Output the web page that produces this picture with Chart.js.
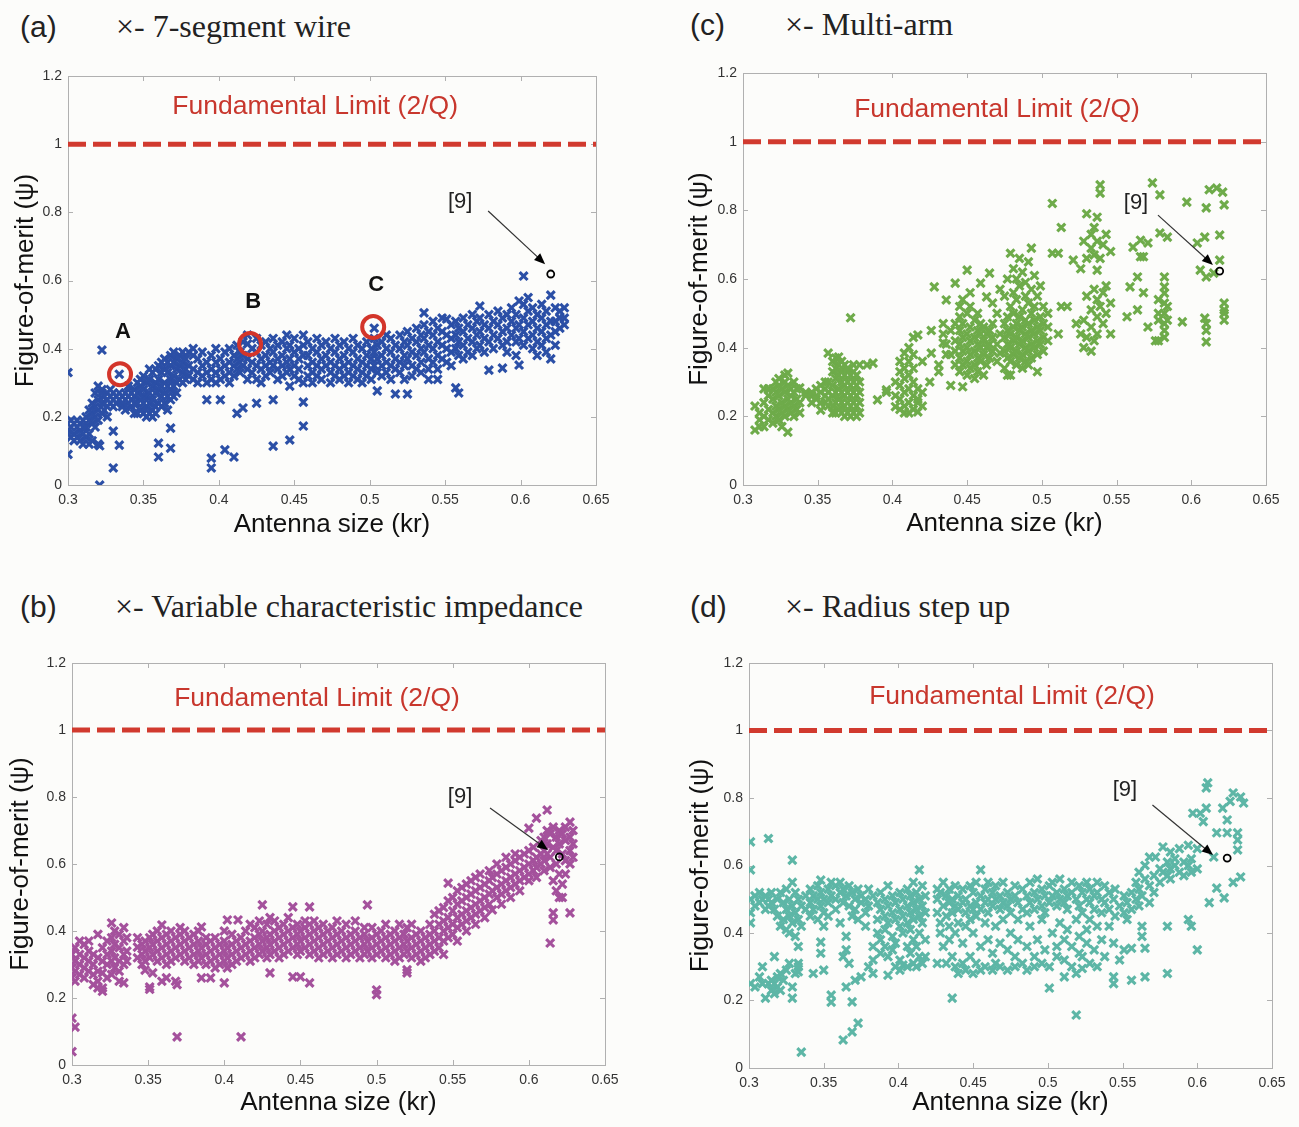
<!DOCTYPE html>
<html>
<head>
<meta charset="utf-8">
<script src="https://cdn.jsdelivr.net/npm/chart.js@4/dist/chart.umd.min.js"></script>
<style>
body { margin:0; background:#fcfcfa; width:1299px; height:1127px; position:relative; overflow:hidden; }
canvas { position:absolute; }
.tag { position:absolute; font-family:"Liberation Sans", Arial, sans-serif; font-size:30px; color:#222; line-height:30px; }
.name { position:absolute; font-family:"Liberation Serif", "Times New Roman", serif; font-size:32px; color:#222; line-height:32px; }
</style>
</head>
<body>
<div class="tag" style="left:20px;top:12px">(a)</div>
<div class="name" style="left:116px;top:10px">×- 7-segment wire</div>
<div class="tag" style="left:690px;top:10px">(c)</div>
<div class="name" style="left:785px;top:8px">×- Multi-arm</div>
<div class="tag" style="left:20px;top:592px">(b)</div>
<div class="name" style="left:115px;top:590px">×- Variable characteristic impedance</div>
<div class="tag" style="left:690px;top:592px">(d)</div>
<div class="name" style="left:785px;top:590px">×- Radius step up</div>

<canvas id="pa" width="640" height="492" style="left:0;top:58px"></canvas>
<canvas id="pc" width="624" height="492" style="left:675px;top:58px"></canvas>
<canvas id="pb" width="640" height="482" style="left:0;top:645px"></canvas>
<canvas id="pd" width="624" height="482" style="left:675px;top:645px"></canvas>

<script>
// axis ticks
const xTicks = [0.3, 0.35, 0.4, 0.45, 0.5, 0.55, 0.6, 0.65];
const yTicks = [0, 0.2, 0.4, 0.6, 0.8, 1, 1.2];
const limitValue = 1;

// each column: [kr, [figure-of-merit values read at that kr]]
const wireCols = [
  [0.300, [0.33, 0.16, 0.09]], [0.302, [0.19, 0.14, 0.17]], [0.304, [0.15, 0.18, 0.13]],
  [0.306, [0.17, 0.14, 0.19]], [0.308, [0.16, 0.13, 0.18]], [0.310, [0.15, 0.19, 0.17, 0.12]],
  [0.312, [0.20, 0.17, 0.14]], [0.314, [0.22, 0.19, 0.15, 0.12]], [0.316, [0.24, 0.21, 0.18, 0.13]],
  [0.318, [0.27, 0.23, 0.20, 0.17]], [0.320, [0.29, 0.25, 0.22, 0.19, 0.12]], [0.321, [0.0, 0.115]],
  [0.3225, [0.396, 0.27, 0.24, 0.21, 0.28]], [0.324, [0.26, 0.22, 0.24]], [0.326, [0.25, 0.27, 0.23, 0.2]],
  [0.328, [0.26, 0.24, 0.28]], [0.330, [0.25, 0.27, 0.158, 0.05, 0.23]], [0.332, [0.26, 0.24]],
  [0.334, [0.325, 0.25, 0.27, 0.117]], [0.336, [0.26, 0.24, 0.23]], [0.338, [0.25, 0.27, 0.22]],
  [0.340, [0.26, 0.24, 0.29]], [0.342, [0.25, 0.27, 0.23]], [0.344, [0.28, 0.24, 0.26, 0.21]],
  [0.346, [0.30, 0.27, 0.24, 0.21]], [0.348, [0.29, 0.25, 0.22, 0.31]], [0.350, [0.28, 0.24, 0.21, 0.32, 0.26]],
  [0.352, [0.30, 0.26, 0.23, 0.20]], [0.354, [0.31, 0.27, 0.24, 0.21, 0.34]], [0.356, [0.33, 0.29, 0.25, 0.22, 0.20]],
  [0.358, [0.34, 0.30, 0.27, 0.23, 0.21]], [0.360, [0.35, 0.31, 0.28, 0.24, 0.123, 0.082]],
  [0.362, [0.36, 0.33, 0.29, 0.26, 0.23]], [0.364, [0.37, 0.34, 0.30, 0.27, 0.24]],
  [0.366, [0.36, 0.33, 0.29, 0.26, 0.22]], [0.368, [0.38, 0.35, 0.31, 0.28, 0.167, 0.108, 0.25]],
  [0.370, [0.39, 0.36, 0.32, 0.29, 0.26]], [0.372, [0.37, 0.34, 0.30, 0.27]], [0.374, [0.38, 0.35, 0.31]],
  [0.376, [0.36, 0.33, 0.30, 0.39]], [0.378, [0.37, 0.34, 0.31]], [0.380, [0.39, 0.35, 0.32]],
  [0.383, [0.38, 0.34, 0.31, 0.40]], [0.386, [0.37, 0.33, 0.30]], [0.389, [0.39, 0.35, 0.32]],
  [0.392, [0.36, 0.33, 0.25, 0.30]], [0.395, [0.38, 0.34, 0.31, 0.079, 0.05]], [0.398, [0.40, 0.36, 0.33, 0.30]],
  [0.401, [0.37, 0.34, 0.25, 0.31]], [0.404, [0.39, 0.35, 0.32, 0.103]], [0.407, [0.40, 0.36, 0.33, 0.30]],
  [0.410, [0.38, 0.35, 0.32, 0.082]], [0.412, [0.41, 0.37, 0.34, 0.21]], [0.414, [0.39, 0.36, 0.33]],
  [0.416, [0.42, 0.38, 0.35, 0.226]], [0.419, [0.414, 0.37, 0.34, 0.31, 0.44]], [0.422, [0.40, 0.36, 0.33]],
  [0.425, [0.43, 0.39, 0.35, 0.24, 0.31]], [0.428, [0.41, 0.37, 0.34, 0.30]], [0.431, [0.42, 0.38, 0.35, 0.32]],
  [0.434, [0.40, 0.36, 0.33]], [0.436, [0.43, 0.39, 0.35, 0.25, 0.114]], [0.439, [0.41, 0.37, 0.34, 0.31]],
  [0.442, [0.42, 0.38, 0.35, 0.32]], [0.445, [0.44, 0.40, 0.36, 0.33]], [0.447, [0.41, 0.37, 0.34, 0.132, 0.29]],
  [0.450, [0.43, 0.39, 0.35, 0.32]], [0.453, [0.40, 0.37, 0.34, 0.31]], [0.456, [0.44, 0.41, 0.38, 0.243, 0.173, 0.30]],
  [0.459, [0.42, 0.38, 0.35, 0.32]], [0.462, [0.40, 0.36, 0.33, 0.30]], [0.465, [0.43, 0.39, 0.35, 0.32]],
  [0.468, [0.41, 0.37, 0.34, 0.31]], [0.471, [0.42, 0.38, 0.35]], [0.474, [0.40, 0.36, 0.33, 0.30]],
  [0.477, [0.43, 0.39, 0.35, 0.32]], [0.480, [0.41, 0.37, 0.34, 0.31]], [0.483, [0.42, 0.38, 0.35, 0.32]],
  [0.486, [0.40, 0.36, 0.33, 0.30]], [0.489, [0.43, 0.39, 0.35, 0.32]], [0.492, [0.41, 0.37, 0.34, 0.31]],
  [0.495, [0.40, 0.36, 0.33, 0.30]], [0.498, [0.42, 0.38, 0.35, 0.32]], [0.501, [0.40, 0.37, 0.34, 0.31]],
  [0.503, [0.46, 0.43, 0.39, 0.35]], [0.505, [0.41, 0.37, 0.33, 0.276]], [0.508, [0.42, 0.38, 0.35, 0.32]],
  [0.511, [0.40, 0.36, 0.33, 0.44]], [0.514, [0.43, 0.39, 0.35, 0.31]], [0.517, [0.41, 0.37, 0.34, 0.267]],
  [0.520, [0.44, 0.40, 0.36, 0.33]], [0.523, [0.42, 0.38, 0.35, 0.31]], [0.525, [0.45, 0.41, 0.37, 0.267]],
  [0.528, [0.43, 0.39, 0.35, 0.32]], [0.531, [0.46, 0.42, 0.38, 0.34]], [0.534, [0.44, 0.40, 0.36, 0.33]],
  [0.536, [0.505, 0.47, 0.43, 0.39]], [0.539, [0.45, 0.41, 0.37, 0.34, 0.31]], [0.542, [0.48, 0.44, 0.40, 0.36]],
  [0.545, [0.46, 0.42, 0.38, 0.34, 0.31]], [0.548, [0.49, 0.45, 0.41, 0.37]], [0.551, [0.487, 0.44, 0.40, 0.36]],
  [0.554, [0.47, 0.43, 0.39, 0.35]], [0.557, [0.48, 0.44, 0.40, 0.285]], [0.559, [0.46, 0.42, 0.38, 0.27]],
  [0.562, [0.49, 0.45, 0.41, 0.37]], [0.565, [0.47, 0.43, 0.39]], [0.568, [0.50, 0.46, 0.42, 0.38]],
  [0.571, [0.48, 0.44, 0.40]], [0.573, [0.525, 0.49, 0.45, 0.41]], [0.576, [0.47, 0.43, 0.39]],
  [0.579, [0.50, 0.46, 0.42, 0.337]], [0.582, [0.48, 0.44, 0.40]], [0.585, [0.51, 0.47, 0.43]],
  [0.588, [0.49, 0.45, 0.41, 0.343]], [0.591, [0.50, 0.46, 0.42, 0.39]], [0.594, [0.52, 0.48, 0.44]],
  [0.597, [0.50, 0.46, 0.42, 0.38]], [0.599, [0.54, 0.47, 0.352, 0.43]], [0.602, [0.613, 0.53, 0.49, 0.45, 0.41]],
  [0.605, [0.55, 0.51, 0.47, 0.43]], [0.608, [0.52, 0.48, 0.44, 0.40]], [0.611, [0.50, 0.46, 0.42, 0.38]],
  [0.614, [0.53, 0.49, 0.45, 0.41]], [0.617, [0.51, 0.47, 0.43, 0.39]], [0.620, [0.557, 0.48, 0.44, 0.37]],
  [0.623, [0.52, 0.48, 0.45, 0.41]], [0.626, [0.51, 0.49, 0.46]], [0.629, [0.52, 0.49, 0.47]]
];

const impedanceCols = [
  [0.300, [0.29, 0.26, 0.33, 0.14, 0.04]], [0.302, [0.31, 0.28, 0.25, 0.113, 0.35]], [0.305, [0.33, 0.30, 0.27, 0.37]],
  [0.308, [0.32, 0.29, 0.36, 0.26]], [0.311, [0.34, 0.31, 0.28, 0.37]], [0.314, [0.33, 0.30, 0.27, 0.24]],
  [0.317, [0.32, 0.28, 0.23, 0.25, 0.39]], [0.320, [0.35, 0.31, 0.275, 0.23, 0.22]], [0.323, [0.37, 0.33, 0.30, 0.26]],
  [0.326, [0.424, 0.38, 0.34, 0.31, 0.27]], [0.328, [0.36, 0.32, 0.29, 0.40]], [0.331, [0.39, 0.35, 0.31, 0.28, 0.25]],
  [0.334, [0.41, 0.37, 0.33, 0.30, 0.245]], [0.336, [0.38, 0.34, 0.31]], [0.343, [0.352, 0.38, 0.32]],
  [0.346, [0.36, 0.33, 0.30]], [0.348, [0.34, 0.37, 0.283, 0.31]], [0.351, [0.35, 0.32, 0.233, 0.38, 0.226]],
  [0.353, [0.36, 0.33, 0.275, 0.39]], [0.356, [0.34, 0.37, 0.31, 0.40]], [0.359, [0.418, 0.35, 0.32, 0.38, 0.25]],
  [0.362, [0.36, 0.33, 0.30, 0.39, 0.26]], [0.365, [0.37, 0.34, 0.31, 0.40]], [0.368, [0.35, 0.32, 0.38, 0.25]],
  [0.369, [0.084, 0.24]], [0.371, [0.36, 0.33, 0.39, 0.41]], [0.374, [0.37, 0.34, 0.31, 0.40]],
  [0.377, [0.35, 0.32, 0.38]], [0.380, [0.36, 0.33, 0.39, 0.30]], [0.383, [0.37, 0.34, 0.31, 0.40]],
  [0.385, [0.412, 0.35, 0.26, 0.32]], [0.388, [0.36, 0.33, 0.30, 0.38]], [0.391, [0.34, 0.31, 0.37, 0.26]],
  [0.394, [0.35, 0.32, 0.38, 0.29]], [0.397, [0.36, 0.33, 0.30]], [0.400, [0.34, 0.31, 0.37, 0.245, 0.40]],
  [0.402, [0.433, 0.35, 0.32, 0.29]], [0.405, [0.36, 0.33, 0.30, 0.39]], [0.408, [0.34, 0.31, 0.37]],
  [0.409, [0.433]], [0.411, [0.084, 0.35, 0.32, 0.38]], [0.414, [0.36, 0.33, 0.40]],
  [0.417, [0.34, 0.37, 0.31, 0.42]], [0.420, [0.35, 0.38, 0.32, 0.41]], [0.423, [0.36, 0.39, 0.33, 0.43]],
  [0.425, [0.478, 0.37, 0.34, 0.40]], [0.428, [0.35, 0.38, 0.32, 0.42]], [0.430, [0.275, 0.36, 0.39, 0.44, 0.33]],
  [0.433, [0.37, 0.40, 0.34, 0.43]], [0.436, [0.35, 0.38, 0.41, 0.32]], [0.439, [0.36, 0.39, 0.42, 0.33]],
  [0.442, [0.37, 0.40, 0.34, 0.44]], [0.445, [0.472, 0.263, 0.38, 0.35, 0.41]], [0.448, [0.36, 0.39, 0.42, 0.33]],
  [0.450, [0.263, 0.37, 0.40, 0.34]], [0.453, [0.38, 0.41, 0.35, 0.43]], [0.456, [0.472, 0.245, 0.36, 0.39, 0.33, 0.42]],
  [0.459, [0.37, 0.40, 0.34, 0.43]], [0.462, [0.38, 0.35, 0.41, 0.32]], [0.465, [0.36, 0.39, 0.33, 0.42]],
  [0.468, [0.37, 0.40, 0.34]], [0.471, [0.35, 0.38, 0.32, 0.41]], [0.474, [0.36, 0.39, 0.33, 0.43]],
  [0.477, [0.37, 0.34, 0.40]], [0.480, [0.35, 0.38, 0.32, 0.42]], [0.483, [0.36, 0.39, 0.33]],
  [0.486, [0.37, 0.40, 0.34, 0.43]], [0.489, [0.35, 0.38, 0.32]], [0.492, [0.36, 0.39, 0.41, 0.33]],
  [0.494, [0.478, 0.37, 0.34]], [0.497, [0.38, 0.35, 0.41, 0.32]], [0.500, [0.224, 0.21, 0.36, 0.39, 0.33]],
  [0.503, [0.37, 0.34, 0.40]], [0.506, [0.35, 0.38, 0.32, 0.42]], [0.509, [0.33, 0.36, 0.39]],
  [0.512, [0.34, 0.37, 0.40, 0.31]], [0.515, [0.35, 0.38, 0.32, 0.42]], [0.518, [0.36, 0.33, 0.39]],
  [0.520, [0.284, 0.275, 0.34, 0.37, 0.41]], [0.523, [0.35, 0.38, 0.32, 0.42]], [0.526, [0.36, 0.33, 0.39]],
  [0.529, [0.34, 0.37, 0.40, 0.31]], [0.532, [0.35, 0.38, 0.32]], [0.535, [0.36, 0.39, 0.33, 0.42]],
  [0.538, [0.37, 0.40, 0.34, 0.45]], [0.541, [0.38, 0.42, 0.35, 0.46]], [0.544, [0.33, 0.40, 0.43, 0.37, 0.47]],
  [0.547, [0.543, 0.41, 0.44, 0.38, 0.49]], [0.550, [0.42, 0.46, 0.39, 0.50]], [0.553, [0.44, 0.48, 0.41, 0.52, 0.37]],
  [0.556, [0.45, 0.49, 0.42, 0.53]], [0.559, [0.46, 0.50, 0.43, 0.54, 0.40]], [0.562, [0.47, 0.51, 0.44, 0.55]],
  [0.565, [0.48, 0.52, 0.45, 0.56, 0.42]], [0.568, [0.49, 0.53, 0.46, 0.57]], [0.571, [0.50, 0.54, 0.47, 0.44]],
  [0.574, [0.51, 0.55, 0.48, 0.58]], [0.576, [0.463, 0.52, 0.56]], [0.579, [0.53, 0.57, 0.50, 0.60]],
  [0.582, [0.54, 0.58, 0.51, 0.48]], [0.585, [0.55, 0.59, 0.52, 0.62]], [0.588, [0.56, 0.60, 0.53, 0.50]],
  [0.591, [0.57, 0.61, 0.54, 0.63]], [0.594, [0.58, 0.55, 0.62, 0.52]], [0.597, [0.59, 0.56, 0.63]],
  [0.600, [0.707, 0.60, 0.57, 0.64, 0.55]], [0.603, [0.61, 0.58, 0.65]], [0.605, [0.737, 0.62, 0.59, 0.56]],
  [0.608, [0.63, 0.60, 0.67]], [0.610, [0.64, 0.61, 0.68, 0.58]], [0.612, [0.761, 0.66, 0.63, 0.70]],
  [0.614, [0.364, 0.62, 0.69, 0.59]], [0.616, [0.433, 0.454, 0.65, 0.71, 0.55]], [0.618, [0.68, 0.64, 0.52, 0.60]],
  [0.620, [0.70, 0.66, 0.57, 0.50]], [0.622, [0.50, 0.63, 0.69, 0.54]], [0.624, [0.67, 0.61, 0.71, 0.57]],
  [0.627, [0.725, 0.454, 0.68, 0.64, 0.60]], [0.629, [0.70, 0.66, 0.62]]
];

const multiArmCols = [
  [0.308, [0.16, 0.23]], [0.311, [0.17, 0.21, 0.19]], [0.314, [0.20, 0.24, 0.17, 0.28]],
  [0.317, [0.22, 0.26, 0.19, 0.28]], [0.320, [0.21, 0.25, 0.28, 0.18]], [0.322, [0.23, 0.27, 0.30, 0.20]],
  [0.324, [0.22, 0.26, 0.29, 0.31, 0.19]], [0.326, [0.24, 0.28, 0.21, 0.17]], [0.328, [0.23, 0.27, 0.30, 0.20, 0.32]],
  [0.330, [0.25, 0.22, 0.29, 0.326, 0.154]], [0.332, [0.24, 0.28, 0.21, 0.26]], [0.334, [0.23, 0.27, 0.30, 0.20]],
  [0.336, [0.25, 0.22, 0.28]], [0.338, [0.283, 0.24, 0.21]], [0.342, [0.27, 0.26]],
  [0.346, [0.26, 0.27, 0.24]], [0.349, [0.25, 0.28, 0.26]], [0.352, [0.218, 0.27, 0.24, 0.29]],
  [0.355, [0.26, 0.30, 0.24, 0.28]], [0.357, [0.384, 0.27, 0.25, 0.30, 0.23]], [0.360, [0.26, 0.29, 0.33, 0.36, 0.23, 0.21]],
  [0.362, [0.24, 0.27, 0.31, 0.34, 0.37, 0.21]], [0.364, [0.22, 0.25, 0.28, 0.32, 0.35, 0.373]],
  [0.366, [0.21, 0.24, 0.27, 0.30, 0.33, 0.36]], [0.368, [0.20, 0.23, 0.26, 0.29, 0.32, 0.35]],
  [0.370, [0.21, 0.24, 0.27, 0.30, 0.33, 0.34]], [0.372, [0.20, 0.23, 0.26, 0.29, 0.32, 0.487]],
  [0.374, [0.21, 0.24, 0.27, 0.30, 0.33, 0.35]], [0.376, [0.20, 0.23, 0.26, 0.29, 0.32]],
  [0.378, [0.21, 0.24, 0.27, 0.30, 0.35]], [0.383, [0.35]], [0.387, [0.355]], [0.390, [0.248]],
  [0.396, [0.27, 0.277]], [0.402, [0.228, 0.26, 0.30]], [0.405, [0.25, 0.29, 0.33, 0.36, 0.22]],
  [0.408, [0.384, 0.27, 0.31, 0.34, 0.23, 0.21]], [0.411, [0.24, 0.28, 0.32, 0.36, 0.40, 0.21]],
  [0.414, [0.43, 0.26, 0.30, 0.34, 0.22, 0.38]], [0.417, [0.24, 0.28, 0.213, 0.437, 0.25]],
  [0.420, [0.23, 0.27, 0.36]], [0.425, [0.30]], [0.426, [0.384, 0.45]], [0.428, [0.577]],
  [0.431, [0.33, 0.35]], [0.434, [0.414, 0.44, 0.47]], [0.436, [0.539, 0.38, 0.41]], [0.439, [0.45, 0.29, 0.38]],
  [0.442, [0.588, 0.47, 0.35, 0.39, 0.42]], [0.445, [0.33, 0.37, 0.41, 0.45, 0.49, 0.52]],
  [0.447, [0.286, 0.35, 0.39, 0.43, 0.47, 0.54]], [0.450, [0.626, 0.32, 0.36, 0.40, 0.44, 0.50]],
  [0.452, [0.34, 0.38, 0.42, 0.46, 0.52, 0.56]], [0.455, [0.31, 0.35, 0.39, 0.43, 0.48]],
  [0.457, [0.33, 0.37, 0.41, 0.45, 0.50]], [0.459, [0.588, 0.36, 0.40, 0.44, 0.47]], [0.461, [0.38, 0.42, 0.46, 0.32]],
  [0.463, [0.548, 0.40, 0.44, 0.35]], [0.465, [0.617, 0.37, 0.41, 0.45]], [0.467, [0.39, 0.43, 0.47, 0.53]],
  [0.470, [0.50, 0.36, 0.41]], [0.472, [0.44, 0.384, 0.57]], [0.475, [0.39, 0.43, 0.47, 0.55, 0.34]],
  [0.477, [0.37, 0.41, 0.45, 0.49, 0.60, 0.32]], [0.479, [0.675, 0.32, 0.36, 0.40, 0.44, 0.52]],
  [0.481, [0.38, 0.42, 0.46, 0.50, 0.56, 0.63]], [0.483, [0.35, 0.39, 0.43, 0.47, 0.54, 0.60]],
  [0.485, [0.37, 0.41, 0.45, 0.49, 0.58, 0.66]], [0.487, [0.34, 0.38, 0.42, 0.46, 0.51, 0.62]],
  [0.489, [0.36, 0.40, 0.44, 0.48, 0.55, 0.59]], [0.491, [0.39, 0.43, 0.47, 0.53, 0.65, 0.35]],
  [0.493, [0.37, 0.41, 0.45, 0.50, 0.57, 0.69]], [0.495, [0.40, 0.44, 0.48, 0.52, 0.61]],
  [0.497, [0.33, 0.38, 0.42, 0.46, 0.55]], [0.499, [0.41, 0.45, 0.49, 0.58]], [0.501, [0.39, 0.43, 0.47, 0.52]],
  [0.504, [0.42, 0.46, 0.50]], [0.507, [0.82, 0.675]], [0.511, [0.675, 0.44]], [0.513, [0.75, 0.52]],
  [0.517, [0.52]], [0.521, [0.655]], [0.523, [0.47]], [0.526, [0.44, 0.63]], [0.528, [0.40, 0.71, 0.48]],
  [0.530, [0.79, 0.66, 0.43, 0.55]], [0.533, [0.69, 0.73, 0.51, 0.46, 0.39]], [0.535, [0.75, 0.67, 0.57, 0.42]],
  [0.537, [0.78, 0.626, 0.71, 0.54, 0.44, 0.49]], [0.539, [0.874, 0.85, 0.66, 0.52]], [0.541, [0.70, 0.47, 0.56]],
  [0.543, [0.73, 0.58, 0.50]], [0.546, [0.68, 0.53, 0.44]], [0.557, [0.49]], [0.559, [0.577]],
  [0.561, [0.693]], [0.564, [0.606, 0.51]], [0.566, [0.713, 0.665]], [0.568, [0.665, 0.56]],
  [0.571, [0.705, 0.46]], [0.574, [0.88]], [0.576, [0.42]], [0.578, [0.54, 0.50, 0.48, 0.42]],
  [0.579, [0.845, 0.734]], [0.582, [0.606, 0.577, 0.559, 0.53, 0.50, 0.47, 0.45, 0.43]],
  [0.584, [0.722, 0.52, 0.48]], [0.594, [0.475]], [0.597, [0.824]], [0.604, [0.705]], [0.606, [0.626]],
  [0.609, [0.722, 0.486]], [0.610, [0.807, 0.606, 0.47, 0.45, 0.417]], [0.612, [0.86]], [0.615, [0.617]],
  [0.617, [0.865]], [0.619, [0.728, 0.655]], [0.621, [0.853]], [0.622, [0.816, 0.53, 0.51, 0.50, 0.48]]
];

const radiusCols = [
  [0.301, [0.67, 0.587, 0.46, 0.43, 0.25, 0.50]], [0.304, [0.51, 0.48, 0.24]], [0.307, [0.52, 0.49, 0.27]],
  [0.309, [0.50, 0.30, 0.25]], [0.311, [0.51, 0.207, 0.47]], [0.313, [0.68, 0.50, 0.48, 0.25]],
  [0.315, [0.49, 0.52, 0.26, 0.23]], [0.317, [0.47, 0.33, 0.25, 0.22]], [0.319, [0.50, 0.45, 0.24, 0.27]],
  [0.321, [0.52, 0.42, 0.28, 0.23]], [0.323, [0.49, 0.44, 0.26]], [0.325, [0.53, 0.47, 0.41, 0.29]],
  [0.327, [0.50, 0.45, 0.31, 0.40]], [0.329, [0.616, 0.55, 0.48, 0.43, 0.24, 0.207]], [0.331, [0.52, 0.46, 0.39, 0.28]],
  [0.333, [0.50, 0.44, 0.36, 0.31, 0.285, 0.30]], [0.335, [0.047, 0.48, 0.42]], [0.338, [0.51, 0.47]],
  [0.341, [0.49, 0.45, 0.53]], [0.343, [0.28, 0.47, 0.51]], [0.346, [0.50, 0.54, 0.44]],
  [0.348, [0.557, 0.52, 0.48, 0.373, 0.34]], [0.350, [0.50, 0.46, 0.42, 0.29]], [0.353, [0.53, 0.49, 0.45]],
  [0.355, [0.216, 0.195, 0.55, 0.51]], [0.358, [0.54, 0.50, 0.47]], [0.361, [0.43, 0.52, 0.55]],
  [0.363, [0.083, 0.49, 0.53, 0.33]], [0.365, [0.35, 0.39, 0.51, 0.24]], [0.367, [0.54, 0.48, 0.31]],
  [0.369, [0.107, 0.196, 0.52, 0.45]], [0.371, [0.50, 0.47, 0.26]], [0.373, [0.133, 0.53, 0.44]],
  [0.375, [0.27, 0.49, 0.51]], [0.378, [0.50, 0.46, 0.42]], [0.380, [0.30, 0.53, 0.48]],
  [0.383, [0.36, 0.32, 0.28, 0.51]], [0.386, [0.49, 0.44, 0.40]], [0.388, [0.52, 0.47, 0.38, 0.34]],
  [0.391, [0.50, 0.45, 0.41, 0.36]], [0.393, [0.275, 0.54, 0.48, 0.43, 0.33]], [0.396, [0.51, 0.46, 0.39, 0.35]],
  [0.398, [0.49, 0.44, 0.37, 0.30]], [0.401, [0.52, 0.47, 0.42, 0.32, 0.29]], [0.403, [0.50, 0.45, 0.40, 0.305]],
  [0.406, [0.53, 0.48, 0.43, 0.36, 0.30]], [0.408, [0.51, 0.46, 0.41, 0.34]], [0.410, [0.55, 0.49, 0.44, 0.38, 0.31]],
  [0.412, [0.52, 0.47, 0.36, 0.30]], [0.414, [0.587, 0.50, 0.45, 0.40, 0.33]], [0.416, [0.54, 0.48, 0.43, 0.31]],
  [0.418, [0.51, 0.46, 0.38, 0.33]], [0.426, [0.31, 0.50, 0.46, 0.53]], [0.428, [0.52, 0.43, 0.40]],
  [0.430, [0.48, 0.55, 0.36]], [0.432, [0.31, 0.51, 0.45]], [0.434, [0.53, 0.49, 0.42, 0.38]],
  [0.436, [0.207, 0.50, 0.46, 0.33]], [0.438, [0.54, 0.48, 0.40, 0.30]], [0.440, [0.51, 0.47, 0.43, 0.28]],
  [0.443, [0.53, 0.49, 0.37, 0.31]], [0.445, [0.50, 0.46, 0.42, 0.29]], [0.448, [0.54, 0.48, 0.44, 0.33]],
  [0.450, [0.52, 0.47, 0.40, 0.28]], [0.452, [0.55, 0.49, 0.45, 0.31]], [0.455, [0.587, 0.51, 0.47, 0.36, 0.29]],
  [0.458, [0.53, 0.49, 0.43, 0.30]], [0.460, [0.55, 0.50, 0.46, 0.38]], [0.463, [0.52, 0.48, 0.34, 0.29]],
  [0.465, [0.54, 0.50, 0.42, 0.31]], [0.468, [0.51, 0.47, 0.37, 0.30]], [0.470, [0.55, 0.49, 0.44]],
  [0.473, [0.52, 0.48, 0.35, 0.29]], [0.475, [0.50, 0.46, 0.40]], [0.478, [0.54, 0.51, 0.33, 0.30]],
  [0.480, [0.49, 0.44, 0.38]], [0.483, [0.53, 0.47, 0.31]], [0.486, [0.51, 0.46, 0.36, 0.29]],
  [0.488, [0.55, 0.49, 0.42]], [0.491, [0.52, 0.47, 0.33, 0.30]], [0.493, [0.56, 0.50, 0.38]],
  [0.496, [0.53, 0.48, 0.44, 0.31]], [0.498, [0.51, 0.46, 0.35]], [0.501, [0.237, 0.54, 0.49, 0.30]],
  [0.503, [0.55, 0.51, 0.40]], [0.506, [0.52, 0.48, 0.36, 0.33]], [0.508, [0.56, 0.50, 0.43]],
  [0.511, [0.27, 0.53, 0.49, 0.38, 0.32]], [0.513, [0.51, 0.47, 0.41]], [0.516, [0.55, 0.52, 0.36, 0.30]],
  [0.519, [0.157, 0.28, 0.50, 0.44]], [0.521, [0.34, 0.54, 0.48, 0.39]], [0.523, [0.295, 0.52, 0.46, 0.33]],
  [0.526, [0.55, 0.50, 0.37, 0.41]], [0.528, [0.53, 0.49, 0.44, 0.31]], [0.531, [0.51, 0.47, 0.35]],
  [0.533, [0.55, 0.52, 0.42, 0.30]], [0.536, [0.50, 0.46, 0.38]], [0.538, [0.54, 0.49, 0.33]],
  [0.541, [0.52, 0.47, 0.42]], [0.544, [0.27, 0.25, 0.37, 0.50]], [0.545, [0.45, 0.53]],
  [0.548, [0.32, 0.48]], [0.551, [0.35, 0.51, 0.46]], [0.553, [0.49, 0.44]], [0.556, [0.355, 0.26, 0.52, 0.47]],
  [0.559, [0.50, 0.55]], [0.561, [0.48, 0.53, 0.58]], [0.563, [0.42, 0.39, 0.51]], [0.565, [0.355, 0.27, 0.56, 0.60]],
  [0.568, [0.625, 0.54, 0.49]], [0.571, [0.57, 0.52]], [0.572, [0.625]], [0.575, [0.59, 0.55]],
  [0.577, [0.655, 0.58]], [0.580, [0.28, 0.42, 0.61, 0.57]], [0.582, [0.64, 0.59, 0.56]], [0.585, [0.62, 0.60]],
  [0.588, [0.65, 0.58]], [0.591, [0.61, 0.57]], [0.594, [0.44, 0.66, 0.60]], [0.596, [0.42, 0.62, 0.58]],
  [0.597, [0.755]], [0.600, [0.35, 0.65, 0.59]], [0.602, [0.755]], [0.604, [0.73]], [0.606, [0.77, 0.83]],
  [0.607, [0.845]], [0.608, [0.49]], [0.611, [0.625]], [0.613, [0.697, 0.533]], [0.617, [0.77]],
  [0.618, [0.504]], [0.620, [0.697, 0.735]], [0.622, [0.79]], [0.624, [0.815, 0.55]],
  [0.627, [0.697, 0.646, 0.676]], [0.629, [0.803, 0.566]], [0.631, [0.785]]
];

// reference [9] design (kr, psi) per panel
const refA = [0.620, 0.619];
const refB = [0.620, 0.621];
const refC = [0.619, 0.623];
const refD = [0.620, 0.622];

// highlighted designs in (a)
const pickedNames = ['A', 'B', 'C'];
const pickedKr = [0.3345, 0.4207, 0.5023];
const pickedPsi = [0.325, 0.414, 0.4636];

function toPoints(cols) {
  const pts = [];
  cols.forEach(function (c) {
    c[1].forEach(function (y) { pts.push({ x: c[0], y: y }); });
  });
  return pts;
}

// box, inward ticks and annotations
const decor = {
  id: 'decor',
  beforeDatasetsDraw(chart) {
    const ctx = chart.ctx, a = chart.chartArea;
    const xs = chart.scales.x, ys = chart.scales.y;
    ctx.save();
    ctx.strokeStyle = '#b0b0b0';
    ctx.lineWidth = 1;
    ctx.strokeRect(a.left + 0.5, a.top + 0.5, a.right - a.left, a.bottom - a.top);
    ctx.beginPath();
    xTicks.forEach(function (v) {
      const p = Math.round(xs.getPixelForValue(v)) + 0.5;
      ctx.moveTo(p, a.bottom); ctx.lineTo(p, a.bottom - 5);
      ctx.moveTo(p, a.top); ctx.lineTo(p, a.top + 5);
    });
    yTicks.forEach(function (v) {
      const p = Math.round(ys.getPixelForValue(v)) + 0.5;
      ctx.moveTo(a.left, p); ctx.lineTo(a.left + 5, p);
      ctx.moveTo(a.right, p); ctx.lineTo(a.right - 5, p);
    });
    ctx.stroke();
    ctx.restore();
  },
  afterDatasetsDraw(chart, args, opts) {
    const ctx = chart.ctx;
    const xs = chart.scales.x, ys = chart.scales.y;
    const px = function (p) { return [xs.getPixelForValue(p[0]), ys.getPixelForValue(p[1])]; };
    ctx.save();
    // limit label
    const lp = px(opts.limitText);
    ctx.fillStyle = '#c8372d';
    ctx.font = '26.5px "Liberation Sans", Arial, sans-serif';
    ctx.textAlign = 'center';
    ctx.textBaseline = 'middle';
    ctx.fillText('Fundamental Limit (2/Q)', lp[0], lp[1]);
    // picked designs
    if (opts.picked) {
      pickedNames.forEach(function (n, i) {
        const c = px([pickedKr[i], pickedPsi[i]]);
        ctx.strokeStyle = '#d3352a';
        ctx.lineWidth = 4;
        ctx.beginPath();
        ctx.arc(c[0], c[1], 11, 0, Math.PI * 2);
        ctx.stroke();
        ctx.fillStyle = '#111';
        ctx.font = 'bold 22px "Liberation Sans", Arial, sans-serif';
        ctx.fillText(n, c[0] + 3, c[1] - 42);
      });
    }
    // [9] label, arrow and marker
    const t = px(opts.label), s = px(opts.from), e = px(opts.to), d = px(opts.dot);
    ctx.fillStyle = '#222';
    ctx.font = '22px "Liberation Sans", Arial, sans-serif';
    ctx.fillText('[9]', t[0], t[1]);
    ctx.strokeStyle = '#333';
    ctx.lineWidth = 1.2;
    const ang = Math.atan2(e[1] - s[1], e[0] - s[0]);
    ctx.beginPath();
    ctx.moveTo(s[0], s[1]);
    ctx.lineTo(e[0] - 8 * Math.cos(ang), e[1] - 8 * Math.sin(ang));
    ctx.stroke();
    ctx.fillStyle = '#000';
    ctx.beginPath();
    ctx.moveTo(e[0], e[1]);
    ctx.lineTo(e[0] - 11 * Math.cos(ang) + 4.5 * Math.sin(ang), e[1] - 11 * Math.sin(ang) - 4.5 * Math.cos(ang));
    ctx.lineTo(e[0] - 11 * Math.cos(ang) - 4.5 * Math.sin(ang), e[1] - 11 * Math.sin(ang) + 4.5 * Math.cos(ang));
    ctx.closePath();
    ctx.fill();
    ctx.strokeStyle = '#000';
    ctx.lineWidth = 1.8;
    ctx.beginPath();
    ctx.arc(d[0], d[1], 3.5, 0, Math.PI * 2);
    ctx.stroke();
    ctx.restore();
  }
};

function makePanel(id, color, cols, lay) {
  const ctx = document.getElementById(id).getContext('2d');
  return new Chart(ctx, {
    type: 'scatter',
    data: {
      datasets: [{
        data: toPoints(cols),
        pointStyle: 'crossRot',
        radius: 5.6,
        borderWidth: 3.1,
        borderColor: color,
        backgroundColor: color
      }, {
        type: 'line',
        data: [{ x: xTicks[0], y: limitValue }, { x: xTicks[xTicks.length - 1], y: limitValue }],
        borderColor: '#d13a2e',
        borderWidth: 5,
        borderDash: [18, 7],
        pointRadius: 0
      }]
    },
    options: {
      responsive: false,
      animation: false,
      events: [],
      layout: { padding: lay.pad },
      plugins: {
        legend: { display: false },
        tooltip: { enabled: false },
        decor: lay.marks
      },
      scales: {
        x: {
          type: 'linear',
          min: xTicks[0],
          max: xTicks[xTicks.length - 1],
          afterFit: function (s) { s.height = lay.xH; },
          afterBuildTicks: function (s) { s.ticks = xTicks.map(function (v) { return { value: v }; }); },
          grid: { display: false, drawTicks: false },
          border: { display: false },
          ticks: {
            padding: 7,
            color: '#333',
            font: { family: '"Liberation Sans", Arial, sans-serif', size: 14 },
            callback: function (v) { return String(+v.toFixed(2)); }
          },
          title: {
            display: true,
            text: 'Antenna size (kr)',
            color: '#111',
            font: { family: '"Liberation Sans", Arial, sans-serif', size: 26 },
            padding: { top: 0, bottom: lay.xTitlePad }
          }
        },
        y: {
          type: 'linear',
          min: yTicks[0],
          max: yTicks[yTicks.length - 1],
          afterFit: function (s) { s.width = lay.yW; },
          afterBuildTicks: function (s) { s.ticks = yTicks.map(function (v) { return { value: v }; }); },
          grid: { display: false, drawTicks: false },
          border: { display: false },
          ticks: {
            padding: 6,
            color: '#333',
            font: { family: '"Liberation Sans", Arial, sans-serif', size: 14 },
            callback: function (v) { return String(+v.toFixed(1)); }
          },
          title: {
            display: true,
            text: 'Figure-of-merit (ψ)',
            color: '#111',
            font: { family: '"Liberation Sans", Arial, sans-serif', size: 26 },
            padding: { top: lay.yTitlePad, bottom: 0 }
          }
        }
      }
    },
    plugins: [decor]
  });
}

makePanel('pa', '#2b4fa6', wireCols, {
  pad: { top: 18, right: 44, bottom: 0, left: 0 }, yW: 68, xH: 65, yTitlePad: 10, xTitlePad: 10,
  marks: { limitText: [0.4638, 1.109], picked: true, label: [0.56, 0.83], from: [0.5785, 0.804], to: [0.6163, 0.648], dot: refA }
});
makePanel('pc', '#6eab4a', multiArmCols, {
  pad: { top: 15, right: 33, bottom: 0, left: 0 }, yW: 68, xH: 65, yTitlePad: 9, xTitlePad: 11,
  marks: { limitText: [0.47, 1.092], picked: false, label: [0.563, 0.821], from: [0.5777, 0.786], to: [0.6145, 0.641], dot: refC }
});
makePanel('pb', '#a4519c', impedanceCols, {
  pad: { top: 18, right: 35, bottom: 0, left: 0 }, yW: 72, xH: 62, yTitlePad: 5, xTitlePad: 9,
  marks: { limitText: [0.4609, 1.092], picked: false, label: [0.5548, 0.80], from: [0.5745, 0.767], to: [0.6126, 0.642], dot: refB }
});
makePanel('pd', '#5db6a6', radiusCols, {
  pad: { top: 18, right: 27, bottom: 0, left: 0 }, yW: 74, xH: 59, yTitlePad: 10, xTitlePad: 9,
  marks: { limitText: [0.476, 1.099], picked: false, label: [0.5516, 0.824], from: [0.570, 0.779], to: [0.6105, 0.631], dot: refD }
});
</script>
</body>
</html>
